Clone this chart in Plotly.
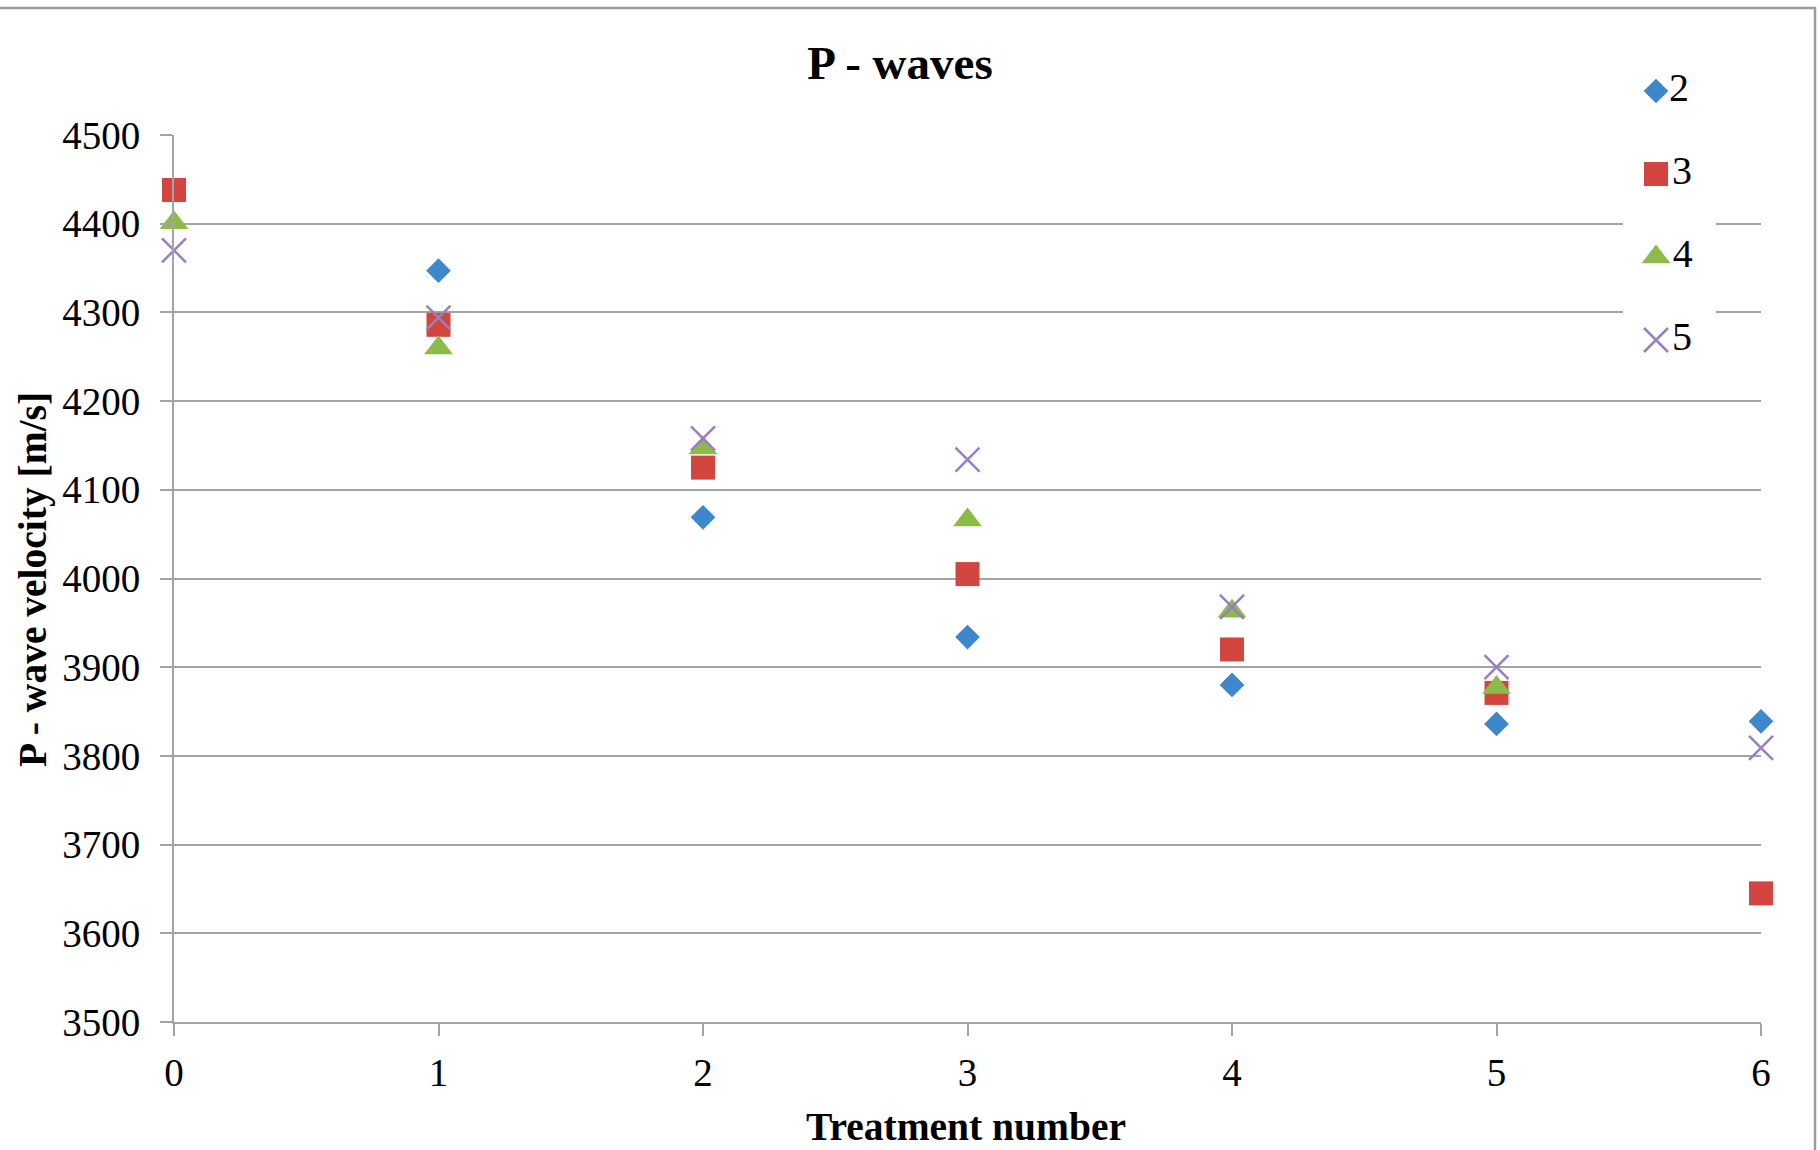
import plotly.graph_objects as go

treatment = [0, 1, 2, 3, 4, 5, 6]
series_names = ["2", "3", "4", "5"]
v2 = [None, 4347, 4069, 3934, 3880, 3836, 3839]
v3 = [4438, 4286, 4125, 4005, 3920, 3871, 3645]
v4 = [4401, 4260, 4147, 4066, 3963, 3877, None]
v5 = [4370, 4294, 4158, 4134, 3968, 3900, 3809]
y_ticks = [3500, 3600, 3700, 3800, 3900, 4000, 4100, 4200, 4300, 4400, 4500]
legend_rank = [3, 2, 1, 0]   # legend row slot of each series (top = 3)

FONT = "Liberation Serif"
GRID = "#A3A3A3"

styles = [
    dict(symbol="diamond", size=19, color="#3F87CD"),
    dict(symbol="square", size=24, color="#D2463F"),
    dict(symbol="triangle-up", size=25, color="#8DBB4A"),
    dict(symbol="x-thin-open", size=24, color="#9A7EC2"),
]

W, H = 1820, 1150
L, R, T, B = 174, 59, 40, 128
PLOT_TOP = 135                      # pixel top of the main plot area
pw, ph = W - L - R, H - T - B


def px_x(p):
    return (p - L) / pw


def px_y(p):
    return (H - B - p) / ph


def make_marker(st):
    m = dict(symbol=st["symbol"], size=st["size"], color=st["color"])
    if st["symbol"].startswith("x-thin"):
        m["line"] = dict(color=st["color"], width=2.5)
    else:
        m["line"] = dict(width=0)
    return m


fig = go.Figure()
for name, vals, st in zip(series_names, [v2, v3, v4, v5], styles):
    fig.add_trace(go.Scatter(
        x=treatment, y=vals, mode="markers", name=name, marker=make_marker(st),
        cliponaxis=False, showlegend=False, xaxis="x", yaxis="y",
    ))

# Legend drawn as a small inset subplot (its white background masks gridlines)
leg_x0, leg_x1 = 1623, 1716          # legend box pixels
leg_top, leg_bottom = 50, 364
row_px = 83                           # spacing between legend rows (px)
row0_px = 340                         # pixel of bottom row centre
y2_lo = (row0_px - leg_bottom) / row_px
y2_hi = (row0_px - leg_top) / row_px
marker_frac = (1656 - leg_x0) / (leg_x1 - leg_x0)

for name, rank, st in zip(series_names, legend_rank, styles):
    fig.add_trace(go.Scatter(
        x=[marker_frac], y=[rank], mode="markers+text", text=[name],
        textposition="middle right",
        textfont=dict(family=FONT, size=40, color="black"),
        marker=make_marker(st), cliponaxis=False, showlegend=False,
        hoverinfo="skip", xaxis="x2", yaxis="y2",
    ))

fig.update_layout(
    width=W, height=H,
    margin=dict(l=L, r=R, t=T, b=B),
    paper_bgcolor="white", plot_bgcolor="white",
    font=dict(family=FONT, size=39, color="black"),
    showlegend=False,
    title=dict(text="<b>P - waves</b>", x=900 / W, xanchor="center",
               y=1 - 63 / H, yanchor="middle", yref="container",
               font=dict(family=FONT, size=47, color="black")),
    xaxis=dict(range=[0, 6], tickvals=treatment, ticktext=[str(t) for t in treatment],
               showgrid=False, zeroline=False, showline=True, linecolor=GRID, linewidth=2,
               ticks="outside", ticklen=12, tickwidth=2, tickcolor=GRID,
               tickfont=dict(family=FONT, size=39, color="black"), ticklabelstandoff=3),
    yaxis=dict(range=[3500, 4500], tickvals=y_ticks, ticktext=[str(v) for v in y_ticks],
               domain=[0, px_y(PLOT_TOP)],
               showgrid=True, gridcolor=GRID, gridwidth=2, zeroline=False,
               showline=True, linecolor=GRID, linewidth=2,
               ticks="outside", ticklen=12, tickwidth=2, tickcolor=GRID,
               tickfont=dict(family=FONT, size=39, color="black"), ticklabelstandoff=12),
    xaxis2=dict(domain=[px_x(leg_x0), px_x(leg_x1)], range=[0, 1], visible=False,
                anchor="y2", fixedrange=True),
    yaxis2=dict(domain=[px_y(leg_bottom), px_y(leg_top)], range=[y2_lo, y2_hi],
                visible=False, anchor="x2", fixedrange=True),
    annotations=[
        dict(text="<b>Treatment number</b>", xref="paper", yref="paper",
             x=px_x(966), y=px_y(1127), xanchor="center", yanchor="middle",
             showarrow=False, font=dict(family=FONT, size=39.5, color="black")),
        dict(text="<b>P - wave velocity [m/s]</b>", xref="paper", yref="paper",
             x=px_x(33), y=px_y(580), xanchor="center", yanchor="middle",
             textangle=-90, showarrow=False, font=dict(family=FONT, size=39.5, color="black")),
    ],
    shapes=[
        dict(type="rect", xref="paper", yref="paper",
             x0=-0.3, x1=px_x(1815), y0=-0.3, y1=px_y(8),
             line=dict(color="#9C9C9C", width=2.5), layer="below"),
    ],
)

fig.write_html("out.html")
